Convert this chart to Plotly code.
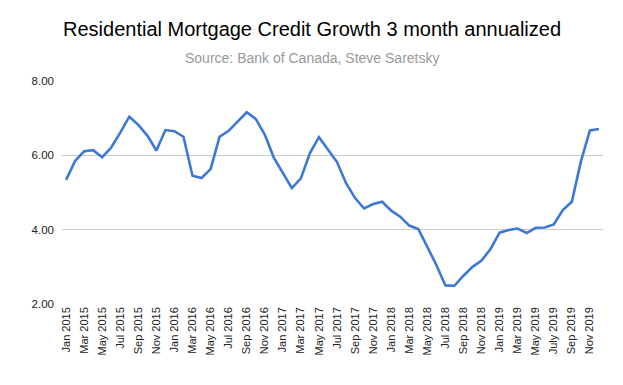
import plotly.graph_objects as go

months = ["Jan", "Feb", "Mar", "Apr", "May", "Jun", "Jul", "Aug", "Sep", "Oct", "Nov", "Dec"]
years = [2015, 2016, 2017, 2018, 2019]
categories = [f"{m} {y}" for y in years for m in months]

values = [5.34, 5.85, 6.11, 6.14, 5.95, 6.21, 6.61, 7.04, 6.82, 6.53, 6.13, 6.68,
          6.65, 6.50, 5.45, 5.39, 5.63, 6.50, 6.66, 6.92, 7.16, 6.98, 6.56, 5.94,
          5.52, 5.12, 5.38, 6.06, 6.49, 6.16, 5.82, 5.25, 4.85, 4.57, 4.69, 4.75,
          4.51, 4.35, 4.11, 4.02, 3.53, 3.05, 2.50, 2.49, 2.76, 3.00, 3.17, 3.48,
          3.92, 3.99, 4.03, 3.91, 4.05, 4.06, 4.14, 4.53, 4.75, 5.83, 6.67, 6.71]

tick_labels = [c for c in categories[::2]]
tick_labels[27] = "July 2019"
tick_positions = list(range(0, 60, 2))

y_ticks = [2, 4, 6, 8]
y_tick_text = ["2.00", "4.00", "6.00", "8.00"]

# page body has an 8px margin, so the figure is sized/offset to compensate
W, H = 615, 377
ML, MR, MT, MB = 54, 20, 73, 81
plot_w = W - ML - MR
plot_h = H - MT - MB


def px_to_paper_x(px):
    return (px - 8 - ML) / plot_w


def px_to_paper_y(py):
    return 1 + (MT - (py - 8)) / plot_h


fig = go.Figure()
fig.add_trace(go.Scatter(
    x=list(range(len(values))), y=values, mode="lines",
    line=dict(color="#3c78d8", width=2.6), hoverinfo="skip",
))

fig.update_layout(
    width=W, height=H,
    margin=dict(l=ML, r=MR, t=MT, b=MB, autoexpand=False),
    paper_bgcolor="white", plot_bgcolor="white",
    showlegend=False,
    font=dict(family="Liberation Sans, Arial, sans-serif", size=11, color="#222222"),
    annotations=[
        dict(text="Residential Mortgage Credit Growth 3 month annualized",
             x=px_to_paper_x(311.7), y=px_to_paper_y(29.5), xref="paper", yref="paper",
             showarrow=False, xanchor="center", yanchor="middle",
             font=dict(size=20, color="#000000")),
        dict(text="Source: Bank of Canada, Steve Saretsky",
             x=px_to_paper_x(311.5), y=px_to_paper_y(58), xref="paper", yref="paper",
             showarrow=False, xanchor="center", yanchor="middle",
             font=dict(size=14, color="#999999")),
    ],
)

fig.update_xaxes(
    range=[-0.45, 59.45], tickmode="array", tickvals=tick_positions, ticktext=tick_labels,
    tickangle=-90, showgrid=False, zeroline=False, showline=False, ticks="",
    tickfont=dict(size=11, color="#222222"), automargin=False,
)
fig.update_yaxes(
    range=[2, 8], tickmode="array", tickvals=y_ticks, ticktext=y_tick_text,
    showgrid=True, gridcolor="#cccccc", gridwidth=1, zeroline=False, showline=False,
    ticks="", tickfont=dict(size=11.5, color="#222222"), ticklabelstandoff=7,
    automargin=False,
)

fig.write_html("out.html")
